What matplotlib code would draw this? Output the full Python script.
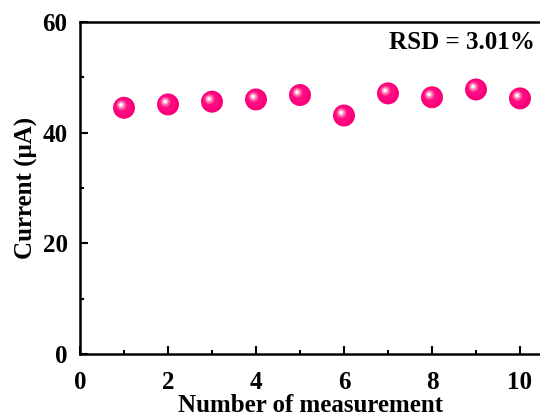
import numpy as np
import matplotlib
matplotlib.use("Agg")
import matplotlib.pyplot as plt
from matplotlib.ticker import MultipleLocator
from matplotlib.transforms import offset_copy

# Repeated measurement data
measurement = [1, 2, 3, 4, 5, 6, 7, 8, 9, 10]
current = [44.5, 45.1, 45.6, 46.0, 46.8, 43.1, 47.1, 46.4, 47.8, 46.2]
rsd_label = "RSD = 3.01%"

plt.rcParams["font.family"] = ["Liberation Serif", "DejaVu Serif"]
plt.rcParams["font.weight"] = "bold"

fig = plt.figure(figsize=(5.4, 4.17), dpi=100)
ax = fig.add_axes([80 / 540, (417 - 354) / 417, 462 / 540, 332 / 417])

# sphere-like markers: base disc plus lighter highlight layers
ax.scatter(measurement, current, s=250, color="#fa0078", edgecolors="none", zorder=3)
layers = [(150, "#ff0a82", 0.8), (50, "#ff4fa0", 1.8), (22, "#ff9cca", 2.0), (6, "#ffffff", 2.1)]
for size, col, off in layers:
    tr = offset_copy(ax.transData, fig=fig, x=-off, y=off, units="points")
    ax.scatter(measurement, current, s=size, color=col, edgecolors="none",
               transform=tr, zorder=4)

ax.set_xlim(0, 10.5)
ax.set_ylim(0, 60)
ax.xaxis.set_major_locator(MultipleLocator(2))
ax.xaxis.set_minor_locator(MultipleLocator(1))
ax.yaxis.set_major_locator(MultipleLocator(20))
ax.yaxis.set_minor_locator(MultipleLocator(10))
ax.tick_params(which="both", direction="in", width=1.5, labelsize=18)
ax.tick_params(axis="x", pad=12)
ax.tick_params(axis="y", pad=9)
ax.tick_params(which="major", length=6)
ax.tick_params(which="minor", length=3)
ax.tick_params(axis="x", top=False)
for sp in ax.spines.values():
    sp.set_linewidth(1.8)

ax.set_xlabel("Number of measurement", fontsize=18, fontweight="bold", labelpad=0.5)
ax.set_ylabel("Current (\u03bcA)", fontsize=18, fontweight="bold", labelpad=3.5)

ax.text(0.985, 0.937, rsd_label, transform=ax.transAxes, ha="right", va="center",
        fontsize=18, fontweight="bold")

fig.savefig("out.png", dpi=100)
